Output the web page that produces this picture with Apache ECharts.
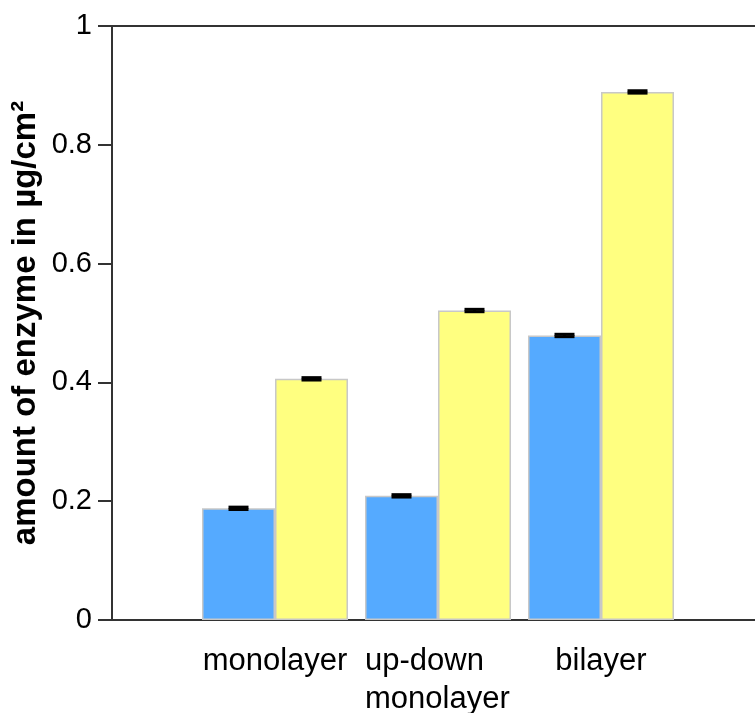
<!DOCTYPE html>
<html>
<head>
<meta charset="utf-8">
<script src="https://cdn.jsdelivr.net/npm/echarts@6/dist/echarts.min.js"></script>
<style>
  html, body { margin: 0; padding: 0; background: #fff; }
  #chart { width: 755px; height: 713px; }
</style>
</head>
<body>
<div id="chart"></div>
<script>
// Categories (blank slots pad both ends of the axis)
const categories = ['', 'monolayer', 'up-down\nmonolayer', 'bilayer', ''];
// Enzyme amount in µg/cm² for the two series
const blueValues = [null, 0.188, 0.209, 0.479, null];
const yellowValues = [null, 0.406, 0.521, 0.889, null];
// Error half-widths
const blueErrors = [null, 0.002, 0.002, 0.002, null];
const yellowErrors = [null, 0.002, 0.002, 0.002, null];
// Y tick range
const yMin = 0, yMax = 1, yStep = 0.2;

const BAR_W = 73;
const FONT = '"Liberation Sans", Arial, Helvetica, sans-serif';

function errorData(values, errors) {
  const out = [];
  values.forEach((v, i) => {
    if (v != null) out.push([i, v - errors[i], v + errors[i]]);
  });
  return out;
}

function errorSeries(values, errors, offset) {
  return {
    type: 'custom',
    data: errorData(values, errors),
    z: 10,
    renderItem: function (params, api) {
      const x = api.value(0);
      const lo = api.coord([x, api.value(1)]);
      const hi = api.coord([x, api.value(2)]);
      const cx = lo[0] + offset;
      const half = 10;
      const style = { stroke: '#000', lineWidth: 3 };
      return {
        type: 'group',
        children: [
          { type: 'line', shape: { x1: cx, y1: lo[1], x2: cx, y2: hi[1] }, style: style },
          { type: 'line', shape: { x1: cx - half, y1: hi[1], x2: cx + half, y2: hi[1] }, style: style },
          { type: 'line', shape: { x1: cx - half, y1: lo[1], x2: cx + half, y2: lo[1] }, style: style }
        ]
      };
    }
  };
}

const chart = echarts.init(document.getElementById('chart'), null, { renderer: 'canvas' });

chart.setOption({
  animation: false,
  backgroundColor: '#fff',
  grid: { left: 112, right: -9, top: 26, bottom: 93, containLabel: false, outerBoundsMode: 'none' },
  xAxis: [
    {
      type: 'category',
      data: categories,
      boundaryGap: false,
      axisLine: { show: true, lineStyle: { color: '#333', width: 2 } },
      axisTick: { show: false },
      axisLabel: {
        interval: 0,
        margin: 22,
        color: '#000',
        fontFamily: FONT,
        fontSize: 31,
        lineHeight: 38,
        align: 'center',
        formatter: function (v) {
          if (!v) return '';
          const lines = v.split('\n');
          // multi-line labels: left-aligned lines inside a centred block
          if (lines.length > 1) return lines.map(s => '{a|' + s + '}').join('\n');
          return v;
        },
        rich: {
          a: { width: 146, align: 'left', fontFamily: FONT, fontSize: 31, lineHeight: 38, color: '#000' }
        }
      },
      splitLine: { show: false }
    },
    {
      type: 'category',
      position: 'top',
      data: categories,
      boundaryGap: false,
      axisLine: { show: true, lineStyle: { color: '#333', width: 2 } },
      axisTick: { show: false },
      axisLabel: { show: false },
      splitLine: { show: false }
    }
  ],
  yAxis: {
    type: 'value',
    min: yMin,
    max: yMax,
    interval: yStep,
    name: 'amount of enzyme in µg/cm²',
    nameLocation: 'middle',
    nameGap: 70,
    nameMoveOverlap: false,
    nameTextStyle: { fontFamily: FONT, fontSize: 33, fontWeight: 'bold', color: '#000' },
    axisLine: { show: true, lineStyle: { color: '#333', width: 2 } },
    axisTick: { show: true, length: 14, lineStyle: { color: '#333', width: 2 } },
    axisLabel: {
      margin: 20,
      color: '#000',
      fontFamily: FONT,
      fontSize: 29,
      formatter: function (v) { return String(Math.round(v * 10) / 10); }
    },
    splitLine: { show: false }
  },
  series: [
    {
      type: 'bar',
      data: blueValues,
      barWidth: BAR_W,
      barGap: '0%',
      itemStyle: { color: '#55aaff', borderColor: '#c8c8c8', borderWidth: 1.5 }
    },
    {
      type: 'bar',
      data: yellowValues,
      barWidth: BAR_W,
      barGap: '0%',
      itemStyle: { color: '#ffff80', borderColor: '#c8c8c8', borderWidth: 1.5 }
    },
    errorSeries(blueValues, blueErrors, -BAR_W / 2),
    errorSeries(yellowValues, yellowErrors, BAR_W / 2)
  ]
});
</script>
</body>
</html>
